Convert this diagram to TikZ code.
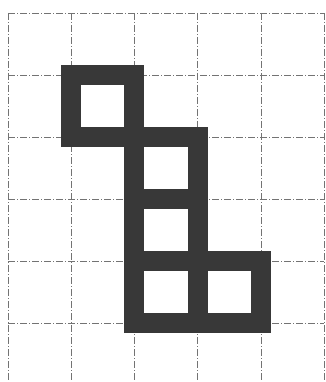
\documentclass[tikz,border=0pt]{standalone}
\begin{document}
\begin{tikzpicture}[x=1pt,y=-1pt,
  gridline/.style={draw=black!55, line width=0.45pt, dash pattern=on 7pt off 2pt on 1pt off 2pt},
  wall/.style={draw=black!78, line width=20pt, line join=miter, line cap=rect}]
\useasboundingbox (0,0) rectangle (325,382);
% grid
\foreach \i in {0,...,5} {
  \draw[gridline] ({8+63.2*\i},13) -- ({8+63.2*\i},382);
  \draw[gridline] (8,{13+62*\i}) -- (324,{13+62*\i});
}
% cells (walls centred on grid lines)
\foreach \c/\r in {1/1,2/2,2/3,2/4,3/4} {
  \draw[wall] ({8+63.2*\c},{13+62*\r}) rectangle ({8+63.2*(\c+1)},{13+62*(\r+1)});
}
\end{tikzpicture}
\end{document}
